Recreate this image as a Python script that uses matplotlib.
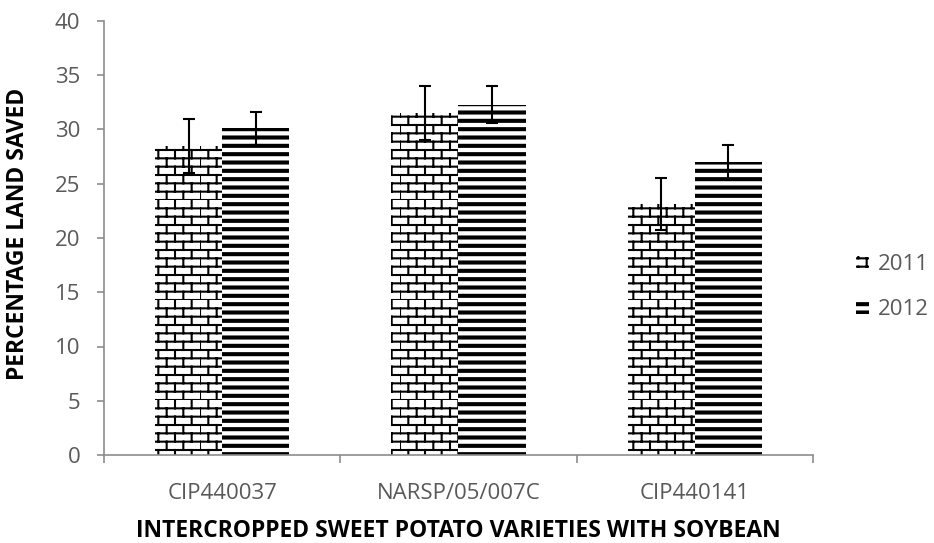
import numpy as np
import matplotlib
matplotlib.use("Agg")
import matplotlib.pyplot as plt
import matplotlib.hatch as mhatch
from matplotlib.path import Path

# data
varieties = ["CIP440037", "NARSP/05/007C", "CIP440141"]
years = ["2011", "2012"]
land_2011 = [28.5, 31.5, 23.1]
err_2011 = [2.5, 2.5, 2.4]
land_2012 = [30.1, 32.3, 27.0]
err_2012 = [1.5, 1.7, 1.6]


# custom hatches: 'b' = brick wall, 's' = thick horizontal stripes
class BrickHatch(mhatch.HatchPatternBase):
    def __init__(self, hatch, density):
        self.rows = 12 if 'b' in hatch else 0
        self.cols = 6
        self.num_vertices = self.rows * 2 + self.rows * self.cols * 2

    def set_vertices_and_codes(self, vertices, codes):
        k = 0
        for i in range(self.rows):
            y0 = i / self.rows
            y1 = (i + 1) / self.rows
            vertices[k] = (0, y0)
            vertices[k + 1] = (1, y0)
            codes[k] = Path.MOVETO
            codes[k + 1] = Path.LINETO
            k += 2
            for j in range(self.cols):
                x = (j + 0.5 * (i % 2)) / self.cols
                vertices[k] = (x, y0)
                vertices[k + 1] = (x, y1)
                codes[k] = Path.MOVETO
                codes[k + 1] = Path.LINETO
                k += 2


class StripeHatch(mhatch.HatchPatternBase):
    def __init__(self, hatch, density):
        self.n = 12 if 's' in hatch else 0
        self.num_vertices = self.n * 5

    def set_vertices_and_codes(self, vertices, codes):
        h = 0.02
        for i in range(self.n):
            y = (i + 0.5) / self.n
            vertices[5 * i:5 * i + 5] = [(0, y - h / 2), (1, y - h / 2),
                                         (1, y + h / 2), (0, y + h / 2),
                                         (0, y - h / 2)]
            codes[5 * i:5 * i + 5] = [Path.MOVETO, Path.LINETO, Path.LINETO,
                                      Path.LINETO, Path.CLOSEPOLY]


mhatch._hatch_types.extend([BrickHatch, StripeHatch])
mhatch._validate_hatch_pattern = lambda h: None

plt.rcParams['font.family'] = ['Open Sans', 'DejaVu Sans']
plt.rcParams['hatch.linewidth'] = 1.5

grey = '#595959'
axis_grey = '#8c8c8c'

fig = plt.figure(figsize=(9.34, 5.43), dpi=100)
ax = fig.add_axes([104 / 934, 88 / 543, 709 / 934, 434 / 543])

x = np.arange(len(varieties))
w = 0.284

b1 = ax.bar(x - w / 2, land_2011, w, facecolor='white', edgecolor='black',
            linewidth=0, hatch='b', label=years[0])
b2 = ax.bar(x + w / 2, land_2012, w, facecolor='white', edgecolor='black',
            linewidth=0, hatch='s', label=years[1])
ax.errorbar(x - w / 2, land_2011, yerr=err_2011, fmt='none', ecolor='black',
            elinewidth=1.5, capsize=4.3, capthick=1.5)
ax.errorbar(x + w / 2, land_2012, yerr=err_2012, fmt='none', ecolor='black',
            elinewidth=1.5, capsize=4.3, capthick=1.5)

ax.set_xlim(-0.5, len(varieties) - 0.5)
ax.set_ylim(0, 40)
ax.set_yticks(np.arange(0, 41, 5))
ax.set_xticks(x)
ax.set_xticklabels(varieties)
ax.set_xticks(np.arange(-0.5, len(varieties), 1), minor=True)

for s in ['top', 'right']:
    ax.spines[s].set_visible(False)
for s in ['left', 'bottom']:
    ax.spines[s].set_color(axis_grey)
    ax.spines[s].set_linewidth(1.2)

ax.tick_params(axis='y', direction='out', length=5, width=1.2, color=axis_grey,
               labelsize=16, labelcolor=grey, pad=12)
ax.tick_params(axis='x', which='major', length=0, labelsize=16,
               labelcolor=grey, pad=20)
ax.tick_params(axis='x', which='minor', direction='out', length=6, width=1.2,
               color=axis_grey)

ax.set_ylabel("PERCENTAGE LAND SAVED", fontsize=16.5, fontweight='bold')
ax.yaxis.set_label_coords(-0.105, 0.51)
ax.set_xlabel("INTERCROPPED SWEET POTATO VARIETIES WITH SOYBEAN",
              fontsize=16.5, fontweight='bold')
ax.xaxis.set_label_coords(0.5, -0.148)

leg = ax.legend(handles=[b1, b2], loc='center left',
                bbox_to_anchor=(836 / 934, 1 - 287 / 543),
                bbox_transform=fig.transFigure, frameon=False, fontsize=16,
                handlelength=0.6, handleheight=0.5, handletextpad=0.4,
                labelspacing=1.1)
for t in leg.get_texts():
    t.set_color(grey)

plt.savefig("out.png", dpi=100)
